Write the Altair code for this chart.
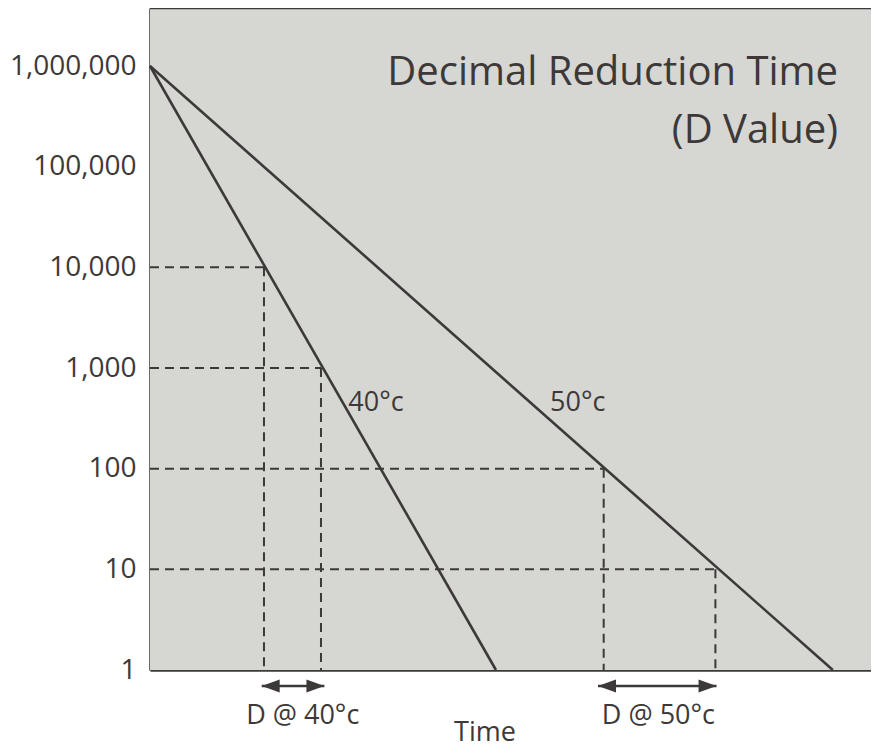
import altair as alt
import pandas as pd

# ---- data ----
temps = ["40°c", "50°c"]
start_count = 1_000_000
end_count = 1
line_end_time = [30.35, 59.9]          # time where each line reaches a count of 1

guide_temp = ["40°c", "40°c", "50°c", "50°c"]
guide_counts = [10000, 1000, 100, 10]
guide_times = [10.0, 15.0, 39.8, 49.6]

arrow_labels = ["D @ 40°c", "D @ 50°c"]
arrow_start = [9.8, 39.3]
arrow_end = [15.3, 49.7]
arrow_label_time = [13.4, 44.6]

series_label_time = [17.4, 35.1]
series_label_count = [377, 377]

y_ticks = [1, 10, 100, 1000, 10000, 100000, 1000000]
title_text = "Decimal Reduction Time\n(D Value)"
x_title = "Time"

# ---- style ----
DARK = "#3d3939"
BG = "#d6d6d2"
FONT = "Open Sans"
W, H = 721, 662

lines_df = pd.DataFrame({
    "temp": temps * 2,
    "t": [0.0, 0.0] + line_end_time,
    "count": [start_count, start_count, end_count, end_count],
})
guides_df = pd.DataFrame({
    "temp": guide_temp,
    "t0": [0.0] * len(guide_times),
    "t": guide_times,
    "count": guide_counts,
    "bottom": [end_count] * len(guide_times),
})
arrows_df = pd.DataFrame({
    "label": arrow_labels,
    "t": arrow_start,
    "t2": arrow_end,
    "tl": arrow_label_time,
})
labels_df = pd.DataFrame({
    "temp": temps,
    "t": series_label_time,
    "count": series_label_count,
})
one_df = pd.DataFrame({"title": [title_text]})

x_scale = alt.Scale(domain=[0, 63.25], nice=False, zero=False)
y_scale = alt.Scale(type="log", domain=[1, 3.77e6], nice=False)
x_axis = alt.Axis(labels=False, ticks=False, grid=False, domainColor=DARK,
                  domainWidth=2.5, title=x_title, titleFontSize=27,
                  titleFontWeight="normal", titleColor=DARK, titleFont=FONT,
                  titleX=334.5, titleY=70, titleAlign="center",
                  titleBaseline="alphabetic")
y_axis = alt.Axis(values=y_ticks, format=",d", grid=False, ticks=False,
                  domainColor=DARK, domainWidth=2.5, labelFontSize=28,
                  labelColor=DARK, labelFont=FONT, labelPadding=14,
                  title=None, labelOverlap=False, labelFlush=False)


def X(field):
    return alt.X(f"{field}:Q", scale=x_scale, axis=x_axis)


def Y(field):
    return alt.Y(f"{field}:Q", scale=y_scale, axis=y_axis)


background = alt.Chart(one_df).mark_rect(color=BG, strokeWidth=0).encode(
    x=alt.value(0), x2=alt.value(W), y=alt.value(0), y2=alt.value(H))

lines = alt.Chart(lines_df).mark_line(color=DARK, strokeWidth=2.6).encode(
    x=X("t"), y=Y("count"), detail="temp:N")

h_guides = alt.Chart(guides_df).mark_rule(
    color=DARK, strokeWidth=2, strokeDash=[9, 6]).encode(
    x=X("t0"), x2="t:Q", y=Y("count"))

v_guides = alt.Chart(guides_df).mark_rule(
    color=DARK, strokeWidth=2, strokeDash=[9, 6]).encode(
    x=X("t"), y=Y("count"), y2="bottom:Q")

series_labels = alt.Chart(labels_df).mark_text(
    align="left", baseline="alphabetic", fontSize=27, color=DARK, font=FONT).encode(
    x=X("t"), y=Y("count"), text="temp:N")

shafts = alt.Chart(arrows_df).mark_rule(color=DARK, strokeWidth=2.5).encode(
    x=X("t"), x2="t2:Q", y=alt.value(678))

left_heads = alt.Chart(arrows_df).mark_point(
    shape="M0,0 L2,-0.72 L2,0.72 Z", filled=True, color=DARK, opacity=1,
    size=324).encode(x=X("t"), y=alt.value(678))

right_heads = alt.Chart(arrows_df).mark_point(
    shape="M0,0 L-2,-0.72 L-2,0.72 Z", filled=True, color=DARK, opacity=1,
    size=324).encode(x=X("t2"), y=alt.value(678))

arrow_text = alt.Chart(arrows_df).mark_text(
    align="center", baseline="alphabetic", fontSize=27, color=DARK, font=FONT).encode(
    x=X("tl"), y=alt.value(716), text="label:N")

title = alt.Chart(one_df).mark_text(
    align="right", baseline="alphabetic", fontSize=40, color=DARK, font=FONT,
    lineBreak="\n", lineHeight=58).encode(
    x=alt.value(688), y=alt.value(77), text="title:N")

top_border = alt.Chart(one_df).mark_rule(color=DARK, strokeWidth=2.5).encode(
    x=alt.value(0), x2=alt.value(W), y=alt.value(0))

chart = alt.layer(
    background, h_guides, v_guides, lines, series_labels, shafts, left_heads,
    right_heads, arrow_text, title, top_border
).properties(
    width=W, height=H,
    padding={"left": 142, "top": 0, "right": 0, "bottom": 78},
    autosize=alt.AutoSizeParams(type="none"),
).configure_view(strokeWidth=0).configure(font=FONT)

chart.save("out.html", embed_options={"renderer": "svg", "actions": False})
